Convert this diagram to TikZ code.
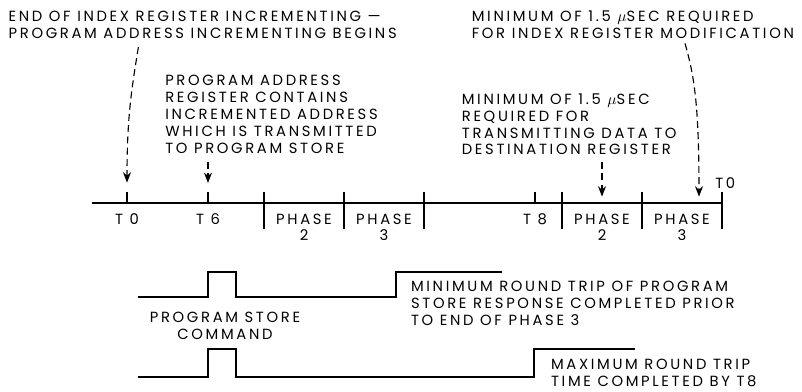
\documentclass[tikz,border=0pt]{standalone}
\usepackage{fontspec}
\setmainfont{Poppins}[LetterSpace=18]
\usetikzlibrary{arrows.meta}

\begin{document}
\begin{tikzpicture}[
    note/.style={draw=none, rectangle, inner sep=0pt, align=left, anchor=north west, font=\fontsize{10.5}{12}\selectfont},
    tag/.style={draw=none, rectangle, inner sep=0pt, align=center, anchor=north, font=\fontsize{10.5}{12}\selectfont},
    line/.style={line width=1.2pt},
    pointer/.style={line width=0.8pt, dash pattern=on 5pt off 3pt, -{Stealth[length=2.6mm, width=2mm]}}
]
    \useasboundingbox (0,0) rectangle (20.05,9.775);

    % Draw the time axis
    \draw[line] (2.3,4.7) -- (18.05,4.7);
    \foreach \x in {3.175,5.2,13.375} \draw[line] (\x,4.7) -- (\x,4.97);
    \foreach \x in {6.6,8.6,10.6,14.05,16.05,18.05} \draw[line] (\x,4.97) -- (\x,4.05);

    % Time and phase names
    \node[tag] (t0) at (3.175,4.44) {T 0};
    \node[tag] (t6) at (5.2,4.44) {T 6};
    \node[tag] (ph2a) at (7.6,4.44) {PHASE\\2};
    \node[tag] (ph3a) at (9.6,4.44) {PHASE\\3};
    \node[tag] (t8) at (13.375,4.44) {T 8};
    \node[tag] (ph2b) at (15.05,4.44) {PHASE\\2};
    \node[tag] (ph3b) at (17.05,4.44) {PHASE\\3};
    \node[note] (tend) at (17.875,5.35) {T0};

    % Notes above the axis
    \node[note] (endidx) at (0.21,9.5) {END OF INDEX REGISTER INCREMENTING ---\\PROGRAM ADDRESS INCREMENTING BEGINS};
    \node[note] (padr) at (4.125,7.9) {PROGRAM ADDRESS\\REGISTER CONTAINS\\INCREMENTED ADDRESS\\WHICH IS TRANSMITTED\\TO PROGRAM STORE};
    \node[note] (minidx) at (11.79,9.51) {MINIMUM OF 1.5 $\mu$SEC REQUIRED\\FOR INDEX REGISTER MODIFICATION};
    \node[note] (mindst) at (11.54,7.44) {MINIMUM OF 1.5 $\mu$SEC\\REQUIRED FOR\\TRANSMITTING DATA TO\\DESTINATION REGISTER};

    % Pointers
    \coordinate (a1) at (3.46,8.6);   \coordinate (a1e) at (3.175,5.21);
    \coordinate (a2) at (5.2,5.72);   \coordinate (a2e) at (5.2,5.2);
    \coordinate (a3) at (15.05,5.72); \coordinate (a3e) at (15.05,4.86);
    \coordinate (a4) at (17.125,8.69); \coordinate (a4e) at (17.475,4.86);
    \draw[pointer] (a1) .. controls (3.3,7.6) and (3.175,6.9) .. (a1e);
    \draw[pointer] (a2) -- (a2e);
    \draw[pointer] (a3) -- (a3e);
    \draw[pointer] (a4) .. controls (17.35,7.9) and (17.475,7.2) .. (a4e);

    % Waveforms
    \draw[line] (3.46,2.35) -- (5.2,2.35) -- (5.2,2.97) -- (5.9,2.97) -- (5.9,2.35)
        -- (9.9,2.35) -- (9.9,2.97) -- (12.55,2.97);
    \draw[line] (3.46,0.35) -- (5.2,0.35) -- (5.2,1.05) -- (5.9,1.05) -- (5.9,0.35)
        -- (13.35,0.35) -- (13.35,1.05) -- (15.875,1.05);

    % Waveform notes
    \node[tag] (cmd) at (5.625,1.98) {PROGRAM STORE\\COMMAND};
    \node[note] (minrt) at (10.27,2.75) {MINIMUM ROUND TRIP OF PROGRAM\\STORE RESPONSE COMPLETED PRIOR\\TO END OF PHASE 3};
    \node[note] (maxrt) at (13.77,0.8) {MAXIMUM ROUND TRIP\\TIME COMPLETED BY T8};
\end{tikzpicture}
\end{document}
